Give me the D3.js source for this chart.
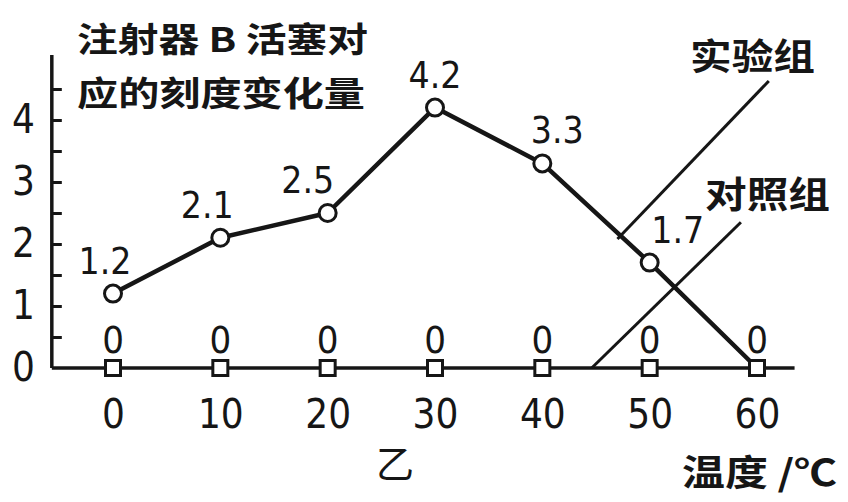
<!DOCTYPE html>
<html>
<head>
<meta charset="utf-8">
<script src="https://cdn.jsdelivr.net/npm/d3@7"></script>
<style>
  body { margin: 0; background: #fff; }
  svg { display: block; }
  .num { font-family: "DejaVu Sans Condensed", "DejaVu Sans", sans-serif; fill: #161616; }
  .cjk { font-family: "Noto Sans CJK SC", sans-serif; fill: #161616; }
</style>
</head>
<body>
<div id="chart"></div>
<script>
// temperatures (°C)
const temps = [0, 10, 20, 30, 40, 50, 60];
// 实验组
const expValues = [1.2, 2.1, 2.5, 4.2, 3.3, 1.7, 0];
// 对照组
const ctrlValues = [0, 0, 0, 0, 0, 0, 0];
const yTickLabels = [0, 1, 2, 3, 4];
const yMinorTicks = [0.5, 1, 1.5, 2, 2.5, 3, 3.5, 4, 4.5];

// label nudges (layout only)
const expLabelDx = [-8, -13, -20, 0, 15, 28, 0];

const W = 848, H = 502;
const ink = "#161616";

const svg = d3.select("#chart").append("svg")
  .attr("width", W).attr("height", H);

const x = d3.scaleLinear().domain([0, 60]).range([113, 757]);
const y = d3.scaleLinear().domain([0, 4]).range([368, 120]);

/* y axis line + ticks on the right side */
svg.append("line")
  .attr("x1", x(-5.7)).attr("x2", x(-5.7))
  .attr("y1", y(5.05)).attr("y2", y(0))
  .attr("stroke", ink).attr("stroke-width", 3.5);

const yTicks = d3.axisRight(y).tickValues(yMinorTicks).tickSize(10).tickFormat("");
svg.append("g")
  .attr("transform", "translate(" + x(-5.7) + ",0)")
  .call(yTicks)
  .call(g => g.select(".domain").remove())
  .call(g => g.selectAll(".tick line").attr("stroke", ink).attr("stroke-width", 3));

const yLabels = d3.axisLeft(y).tickValues(yTickLabels).tickSize(0).tickPadding(17)
  .tickFormat(d3.format("d"));
svg.append("g")
  .attr("transform", "translate(" + x(-5.7) + ",0)")
  .call(yLabels)
  .call(g => g.select(".domain").remove())
  .call(g => g.selectAll(".tick text")
    .attr("class", "num").attr("font-size", 40).attr("fill", ink));

/* x axis = control line */
svg.append("line")
  .attr("x1", x(-5.7)).attr("x2", x(63.5))
  .attr("y1", y(0)).attr("y2", y(0))
  .attr("stroke", ink).attr("stroke-width", 3.5);

const xAxis = d3.axisBottom(x).tickValues(temps).tickSize(0).tickPadding(32)
  .tickFormat(d3.format("d"));
svg.append("g")
  .attr("transform", "translate(0," + y(0) + ")")
  .call(xAxis)
  .call(g => g.select(".domain").remove())
  .call(g => g.selectAll(".tick text")
    .attr("class", "num").attr("font-size", 40).attr("fill", ink));

/* leader lines */
const leaders = [
  [[47, 2.08], [61.1, 4.63]],
  [[44.6, 0], [58.5, 2.35]]
];
const line = d3.line().x(d => x(d[0])).y(d => y(d[1]));
svg.selectAll(".leader").data(leaders).enter()
  .append("path")
  .attr("class", "leader")
  .attr("d", line)
  .attr("fill", "none").attr("stroke", ink).attr("stroke-width", 3);

/* experiment line */
const expPts = temps.map((t, i) => [t, expValues[i]]);
svg.append("path")
  .attr("d", line(expPts))
  .attr("fill", "none").attr("stroke", ink).attr("stroke-width", 4.5)
  .attr("stroke-linejoin", "round");

/* control squares */
const ctrlPts = temps.map((t, i) => [t, ctrlValues[i]]);
svg.selectAll(".sq").data(ctrlPts).enter()
  .append("rect")
  .attr("class", "sq")
  .attr("x", d => x(d[0]) - 7.5).attr("y", d => y(d[1]) - 7.5)
  .attr("width", 15).attr("height", 15)
  .attr("fill", "#fff").attr("stroke", ink).attr("stroke-width", 3);

svg.selectAll(".ctrlLabel").data(ctrlPts).enter()
  .append("text")
  .attr("class", "num")
  .attr("x", d => x(d[0])).attr("y", d => y(d[1]) - 15)
  .attr("text-anchor", "middle").attr("font-size", 38)
  .text(d => d[1]);

/* experiment circles */
svg.selectAll(".pt").data(expPts.filter(d => d[1] > 0)).enter()
  .append("circle")
  .attr("class", "pt")
  .attr("cx", d => x(d[0])).attr("cy", d => y(d[1]))
  .attr("r", 8.5)
  .attr("fill", "#fff").attr("stroke", ink).attr("stroke-width", 3);

svg.selectAll(".expLabel").data(expPts).enter()
  .filter(d => d[1] > 0)
  .append("text")
  .attr("class", "num")
  .attr("x", (d, i) => x(d[0]) + expLabelDx[i]).attr("y", d => y(d[1]) - 20)
  .attr("text-anchor", "middle").attr("font-size", 37)
  .text(d => d3.format(".1f")(d[1]));

/* texts */
function cjk(txt, px, py, len, size, weight) {
  svg.append("text")
    .attr("class", "cjk")
    .attr("x", px).attr("y", py)
    .attr("font-size", size).attr("font-weight", weight)
    .attr("textLength", len).attr("lengthAdjust", "spacingAndGlyphs")
    .text(txt);
}
cjk("注射器 B 活塞对", 77, 52, 291, 34, 700);
cjk("应的刻度变化量", 77, 106, 288, 34, 700);
cjk("实验组", 690, 70, 125, 36, 700);
cjk("对照组", 705, 208, 125, 36, 700);
cjk("温度 /℃", 682, 486, 155, 36, 700);

svg.append("text")
  .attr("class", "cjk")
  .attr("x", 395).attr("y", 478)
  .attr("text-anchor", "middle")
  .attr("font-size", 38)
  .text("乙");
</script>
</body>
</html>
